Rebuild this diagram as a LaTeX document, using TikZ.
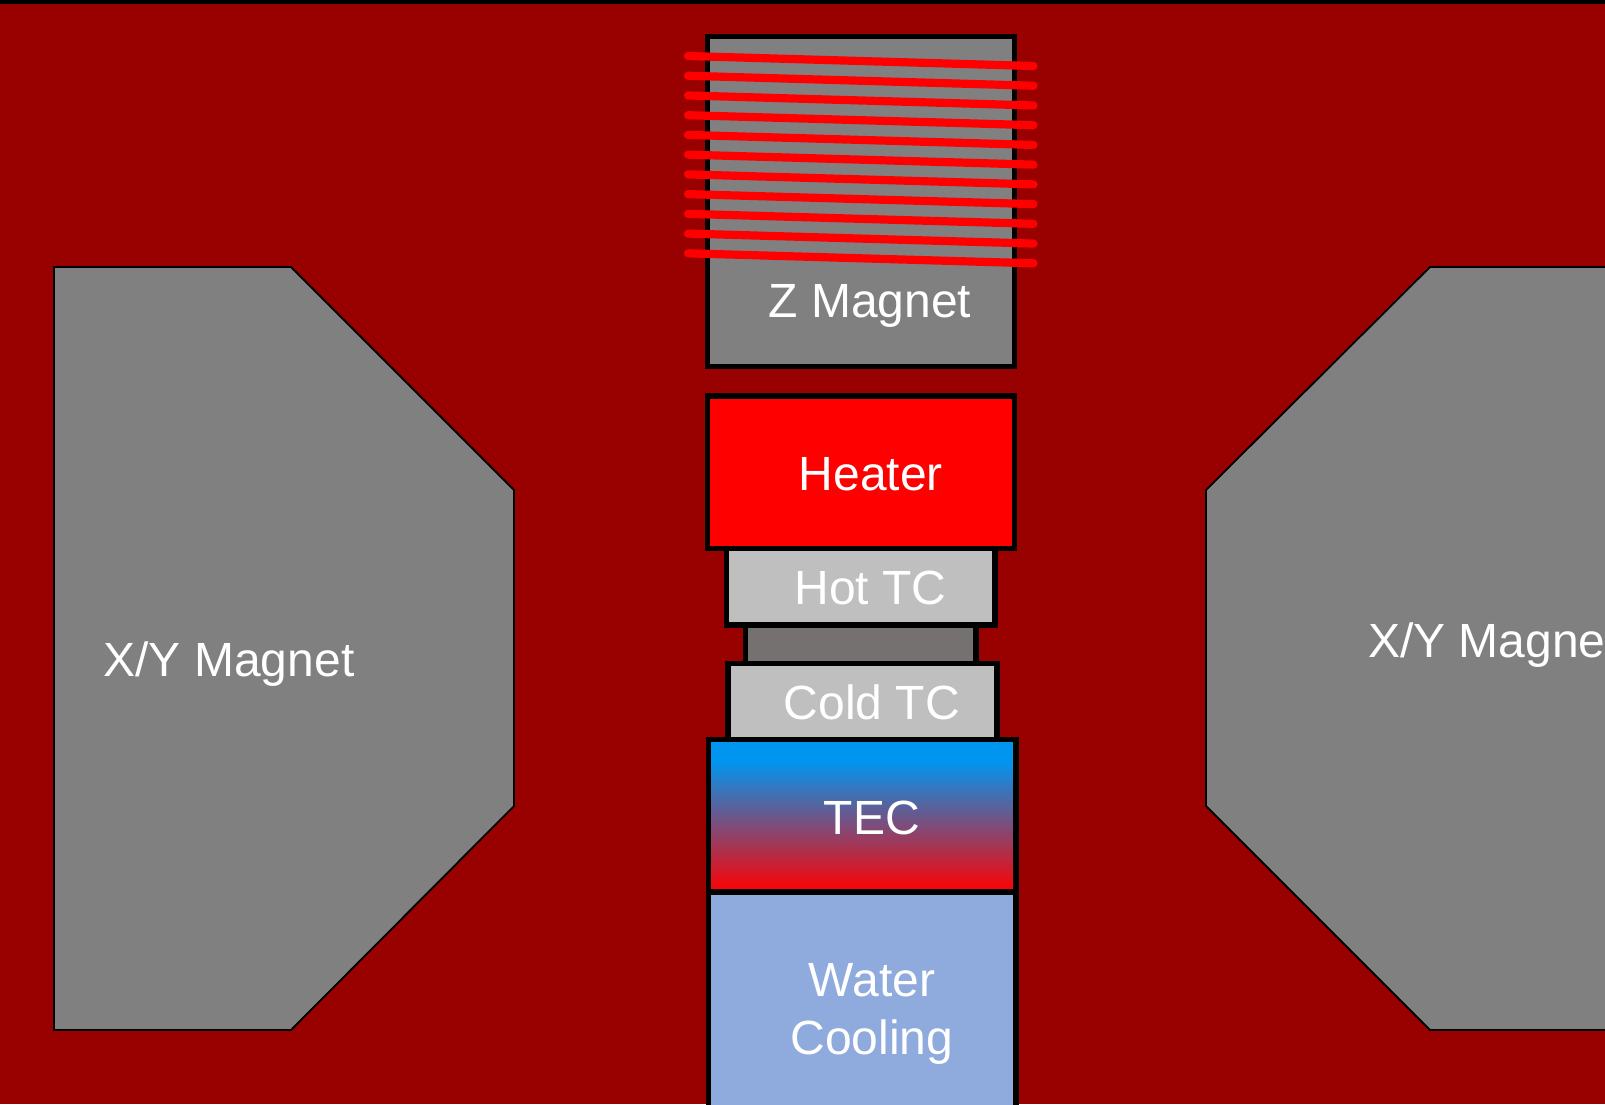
\documentclass[tikz,border=0pt]{standalone}
\usepackage{fontspec}
\setmainfont{Liberation Sans}
\usepackage{tikz}
\usetikzlibrary{calc}
\definecolor{bgred}{RGB}{153,0,0}
\definecolor{maggray}{RGB}{128,128,128}
\definecolor{tcgray}{RGB}{191,191,191}
\definecolor{peltgray}{RGB}{118,113,113}
\definecolor{waterblue}{RGB}{143,170,220}
\definecolor{tecblue}{RGB}{0,150,240}
\pgfdeclareverticalshading{tecfade}{100bp}{color(0bp)=(red); color(25bp)=(red); color(68bp)=(tecblue); color(100bp)=(tecblue)}

\begin{document}
\begin{tikzpicture}[
    x=1pt, y=-1pt,
    part/.style={draw=black, line width=5.2pt, inner sep=0pt, minimum width=#1},
    part/.default=307pt,
    tag/.style={text=white, anchor=base, align=center, inner sep=0pt, font=\fontsize{48}{57.5}\selectfont},
    xymag/.style={draw=black, line width=1.8pt, fill=maggray},
    winding/.style={red, line width=8.2pt, line cap=round}
]
\clip (0,0) rectangle (1605,1104);
\fill[bgred] (0,0) rectangle (1605,1104);
\fill[black] (0,0) rectangle (1605,4);

% --- X/Y magnets ---
\draw[xymag] (54,267) -- (291,267) -- (514,490) -- (514,806) -- (291,1030) -- (54,1030) -- cycle;
\draw[xymag] (1640,267) -- (1430,267) -- (1206,490) -- (1206,806) -- (1430,1030) -- (1640,1030) -- cycle;

% --- Stack ---
\node[part, fill=maggray, minimum height=329.8pt] (zmag) at (861,201.6) {};
\node[part, fill=red, minimum height=152.5pt] (heater) at (861,472.2) {};
\node[part=230.5pt, fill=peltgray, minimum height=38.5pt] (pellet) at (860.8,644.2) {};
\node[part=268.5pt, fill=tcgray, minimum height=76.5pt] (hottc) at (860.8,586.8) {};
\node[part=269pt, fill=tcgray, minimum height=76pt] (coldtc) at (862.5,701.5) {};
\node[part=307.5pt, shading=tecfade, minimum height=152.5pt] (tec) at (862.2,815.8) {};
\node[part=307.5pt, fill=waterblue, minimum height=230pt] (water) at (862.2,1007) {};

% --- Coil around Z magnet ---
\foreach \i in {0,...,10}
    \draw[winding] (688,{56+19.73*\i}) -- (1033.5,{66+19.73*\i});

% --- Labels ---
\node[tag] (zlabel) at (870,317.7) {Z Magnet};
\node[tag] (heatlabel) at (870.8,490) {Heater};
\node[tag] (hotlabel) at (870.5,604.7) {Hot TC};
\node[tag] (coldlabel) at (871.7,719) {Cold TC};
\node[tag] (teclabel) at (871.7,834) {TEC};
\node[tag] (waterlabel) at (872,1054) {Water\\Cooling};
\node[tag] (leftlabel) at (229,676.6) {X/Y Magnet};
\node[tag] (rightlabel) at (1493.6,657) {X/Y Magnet};
\end{tikzpicture}
\end{document}
